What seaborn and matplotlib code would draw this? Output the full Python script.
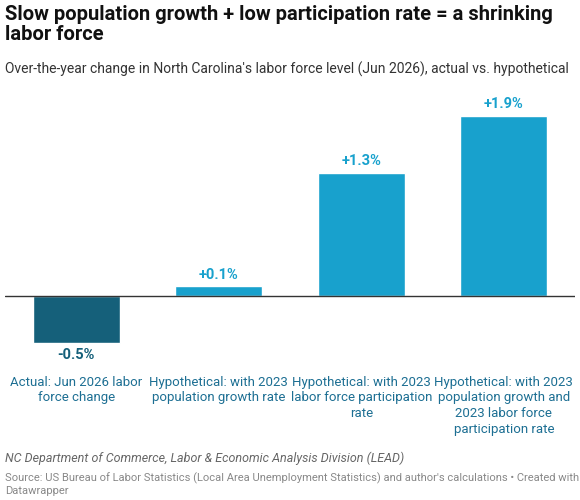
import matplotlib
matplotlib.use("Agg")
import matplotlib.pyplot as plt
import seaborn as sns
import pandas as pd

categories = ["Actual: Jun 2026 labor\nforce change",
              "Hypothetical: with 2023\npopulation growth rate",
              "Hypothetical: with 2023\nlabor force participation\nrate",
              "Hypothetical: with 2023\npopulation growth and\n2023 labor force\nparticipation rate"]
values = [-0.5, 0.1, 1.3, 1.9]
labels = ["-0.5%", "+0.1%", "+1.3%", "+1.9%"]
colors = ["#15607a", "#18a1cd", "#18a1cd", "#18a1cd"]

sns.set_theme(style="white")
plt.rcParams['font.family'] = ['Roboto', 'DejaVu Sans']

fig = plt.figure(figsize=(5.8, 5.0), dpi=100)
W, H = 580, 500
ax = fig.add_axes([5/W, 1-365/H, 570/W, 275/H])
df = pd.DataFrame({"cat": categories, "val": values})
sns.barplot(data=df, x="cat", y="val", hue="cat", palette=colors, legend=False,
            width=0.61, ax=ax, saturation=1)
ax.set_xlim(-0.5, 3.5)
ax.set_ylim(-0.729, 2.175)
ax.axhline(0, color="#333333", lw=1)
for s in ax.spines.values():
    s.set_visible(False)
ax.set_xticks([]); ax.set_yticks([])
ax.set_xlabel(""); ax.set_ylabel("")
for i, (v, l, c) in enumerate(zip(values, labels, colors)):
    off = 0.05 if v >= 0 else -0.05
    ax.text(i, v + off, l, ha="center", va="bottom" if v >= 0 else "top",
            color=c, fontsize=10.5, fontweight="bold")
    fig.text((5 + 142.5*(i+0.5))/W, 1-376/H, categories[i], ha="center", va="top",
             color="#1d6f93", fontsize=9.5, linespacing=1.25)

fig.text(5/W, 1-5/H, "Slow population growth + low participation rate = a shrinking\nlabor force",
         ha="left", va="top", fontsize=14.5, fontweight="bold", color="#111111", linespacing=1.1)
fig.text(5/W, 1-62/H, "Over-the-year change in North Carolina's labor force level (Jun 2026), actual vs. hypothetical",
         ha="left", va="top", fontsize=10, color="#333333")
fig.text(5/W, 1-452/H, "NC Department of Commerce, Labor & Economic Analysis Division (LEAD)",
         ha="left", va="top", fontsize=9, style="italic", color="#666666")
fig.text(5/W, 1-472/H, "Source: US Bureau of Labor Statistics (Local Area Unemployment Statistics) and author's calculations • Created with\nDatawrapper",
         ha="left", va="top", fontsize=8, color="#888888", linespacing=1.3)
fig.savefig("out.png", dpi=100)
